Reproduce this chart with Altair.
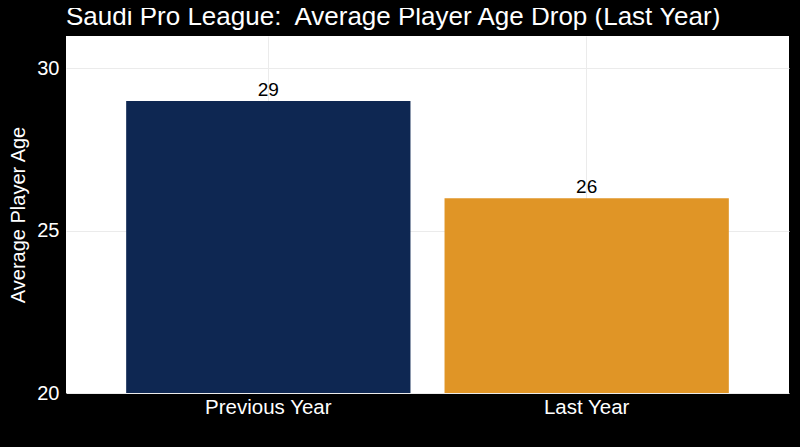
import altair as alt
import pandas as pd
from altair.utils.html import TEMPLATES

# ---- data ----
categories = ["Previous Year", "Last Year"]
ages = [29.0, 26.0]
labels = ["29", "26"]
bar_colors = ["#0e2752", "#e09526"]
y_ticks = [20, 25, 30]

df = pd.DataFrame({"period": categories, "age": ages, "label": labels})

FONT = "Liberation Sans"

x_enc = alt.X(
    "period:N",
    sort=categories,
    scale=alt.Scale(paddingInner=0.107, paddingOuter=0.189),
    axis=alt.Axis(
        title=None, labelAngle=0, labelFontSize=20.5, labelColor="white",
        labelFont=FONT, ticks=False, domain=False, grid=True,
        gridColor="#ebebeb", gridWidth=1, bandPosition=0.5, labelPadding=4,
    ),
)

y_scale = alt.Scale(domain=[20, 31], nice=False, zero=False)

bars = alt.Chart(df).mark_bar().encode(
    x=x_enc,
    y=alt.Y(
        "age:Q",
        scale=y_scale,
        axis=alt.Axis(
            values=y_ticks, title="Average Player Age", titleFontSize=20,
            titleColor="white", titleFont=FONT, titleFontWeight="normal",
            titlePadding=8, labelFontSize=20, labelColor="white", labelFont=FONT,
            labelPadding=7, ticks=False, domain=False, gridColor="#ebebeb",
            gridWidth=1,
        ),
    ),
    y2=alt.datum(20),
    color=alt.Color("period:N", scale=alt.Scale(domain=categories, range=bar_colors), legend=None),
)

text = alt.Chart(df).mark_text(
    baseline="alphabetic", dy=-5, fontSize=19, color="black", font=FONT
).encode(
    x=alt.X("period:N", sort=categories),
    y=alt.Y("age:Q", scale=y_scale),
    text="label:N",
)

chart = alt.layer(bars, text).properties(
    width=723,
    height=357,
    autosize=alt.AutoSizeParams(type="none"),
    padding={"left": 58, "top": 28, "right": 3, "bottom": 46},
    title=alt.TitleParams(
        "Saudi Pro League:\u00a0 Average Player Age Drop (Last Year)",
        anchor="start", frame="group", fontSize=26, color="white",
        font=FONT, fontWeight="normal", offset=6,
    ),
).configure(background="black").configure_view(fill="white", stroke=None)


class BlackPage:
    def render(self, **kw):
        html = TEMPLATES["standard"].render(**kw)
        return html.replace("<head>", "<head><style>html,body{background:#000;}</style>", 1)


chart.save("out.html", embed_options={"renderer": "svg", "actions": False}, template=BlackPage())
